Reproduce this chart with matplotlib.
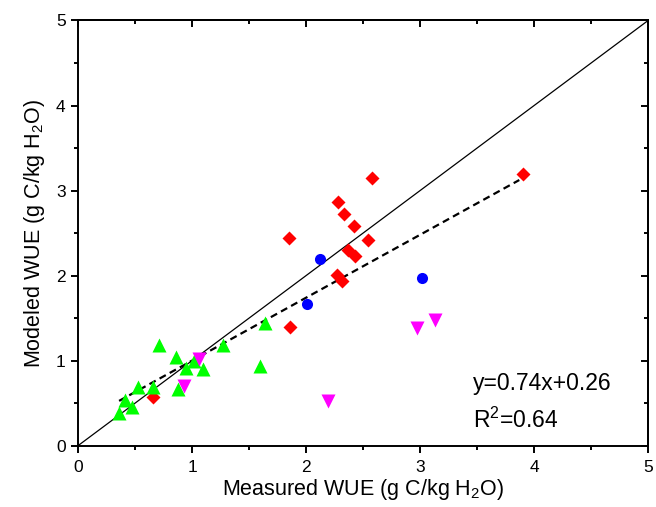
import numpy as np
import matplotlib
matplotlib.use("Agg")
import matplotlib.pyplot as plt
from matplotlib.ticker import MultipleLocator

plt.rcParams['font.family'] = ['Liberation Sans', 'DejaVu Sans']
plt.rcParams['mathtext.fontset'] = 'custom'
plt.rcParams['mathtext.rm'] = 'Liberation Sans'
plt.rcParams['mathtext.it'] = 'Liberation Sans:italic'

# measured vs modeled WUE, grouped by marker
red_x = [0.66, 1.855, 1.85, 2.28, 2.33, 2.42, 2.54, 2.37, 2.43, 2.27, 2.315, 2.58, 3.90]
red_y = [0.57, 1.40, 2.44, 2.86, 2.73, 2.58, 2.42, 2.30, 2.23, 2.01, 1.94, 3.15, 3.19]

blue_x = [2.12, 2.01, 3.02]
blue_y = [2.19, 1.66, 1.97]

green_x = [0.36, 0.41, 0.47, 0.53, 0.66, 0.71, 0.86, 0.88, 0.945, 1.02, 1.10, 1.27, 1.60, 1.64]
green_y = [0.38, 0.535, 0.46, 0.69, 0.69, 1.18, 1.04, 0.67, 0.915, 0.99, 0.90, 1.18, 0.94, 1.44]

magenta_x = [1.065, 0.93, 2.97, 3.13, 2.19]
magenta_y = [1.02, 0.70, 1.38, 1.48, 0.53]

# regression line
fit_slope = 0.74
fit_intercept = 0.26
fit_range = [0.36, 3.87]

fig = plt.figure(figsize=(6.56, 5.07), dpi=100)
ax = fig.add_axes([0.119, 0.121, 0.869, 0.8386])

ax.plot([0, 5], [0, 5], color='black', lw=0.9, zorder=1)
fx = np.array(fit_range)
ax.plot(fx, fit_slope * fx + fit_intercept, color='black', lw=1.6,
        linestyle=(0, (3.2, 2.0)), zorder=1)

ax.plot(red_x, red_y, 'D', color='#ff0000', ms=7, mec='none', zorder=3)
ax.plot(blue_x, blue_y, 'o', color='#0000ff', ms=8, mec='none', zorder=3)
ax.plot(green_x, green_y, '^', color='#00ff00', ms=10, mec='none', zorder=3)
ax.plot(magenta_x, magenta_y, 'v', color='#ff00ff', ms=9.5, mec='none', zorder=3)

ax.set_xlim(0, 5)
ax.set_ylim(0, 5)
for a in (ax.xaxis, ax.yaxis):
    a.set_major_locator(MultipleLocator(1))
    a.set_minor_locator(MultipleLocator(0.5))

for s in ax.spines.values():
    s.set_linewidth(1.4)

ax.tick_params(which='both', direction='out', width=1.4, labelsize=12.5)
ax.tick_params(which='major', length=5)
ax.tick_params(which='minor', length=3)
ax.tick_params(axis='x', pad=5)
ax.tick_params(axis='y', pad=4)

# top and right: ticks pointing inward, no labels
top = ax.secondary_xaxis('top')
right = ax.secondary_yaxis('right')
for sec, a in ((top, top.xaxis), (right, right.yaxis)):
    a.set_major_locator(MultipleLocator(1))
    a.set_minor_locator(MultipleLocator(0.5))
    sec.tick_params(which='both', direction='in', width=1.4, labelleft=False,
                    labelright=False, labeltop=False, labelbottom=False)
    sec.tick_params(which='major', length=5)
    sec.tick_params(which='minor', length=3)
    for s in sec.spines.values():
        s.set_linewidth(1.4)

ax.set_xlabel('Measured WUE (g C/kg H$_\\mathregular{2}$O)', fontsize=15.5, labelpad=2)
ax.set_ylabel('Modeled WUE (g C/kg H$_\\mathregular{2}$O)', fontsize=15.5, labelpad=6)

ax.text(3.46, 0.735, 'y=0.74x+0.26', fontsize=16.5, ha='left', va='center')
ax.text(3.46, 0.30, 'R$^\\mathregular{2}$=0.64', fontsize=16.5, ha='left', va='center')

fig.savefig('out.png', dpi=100)
